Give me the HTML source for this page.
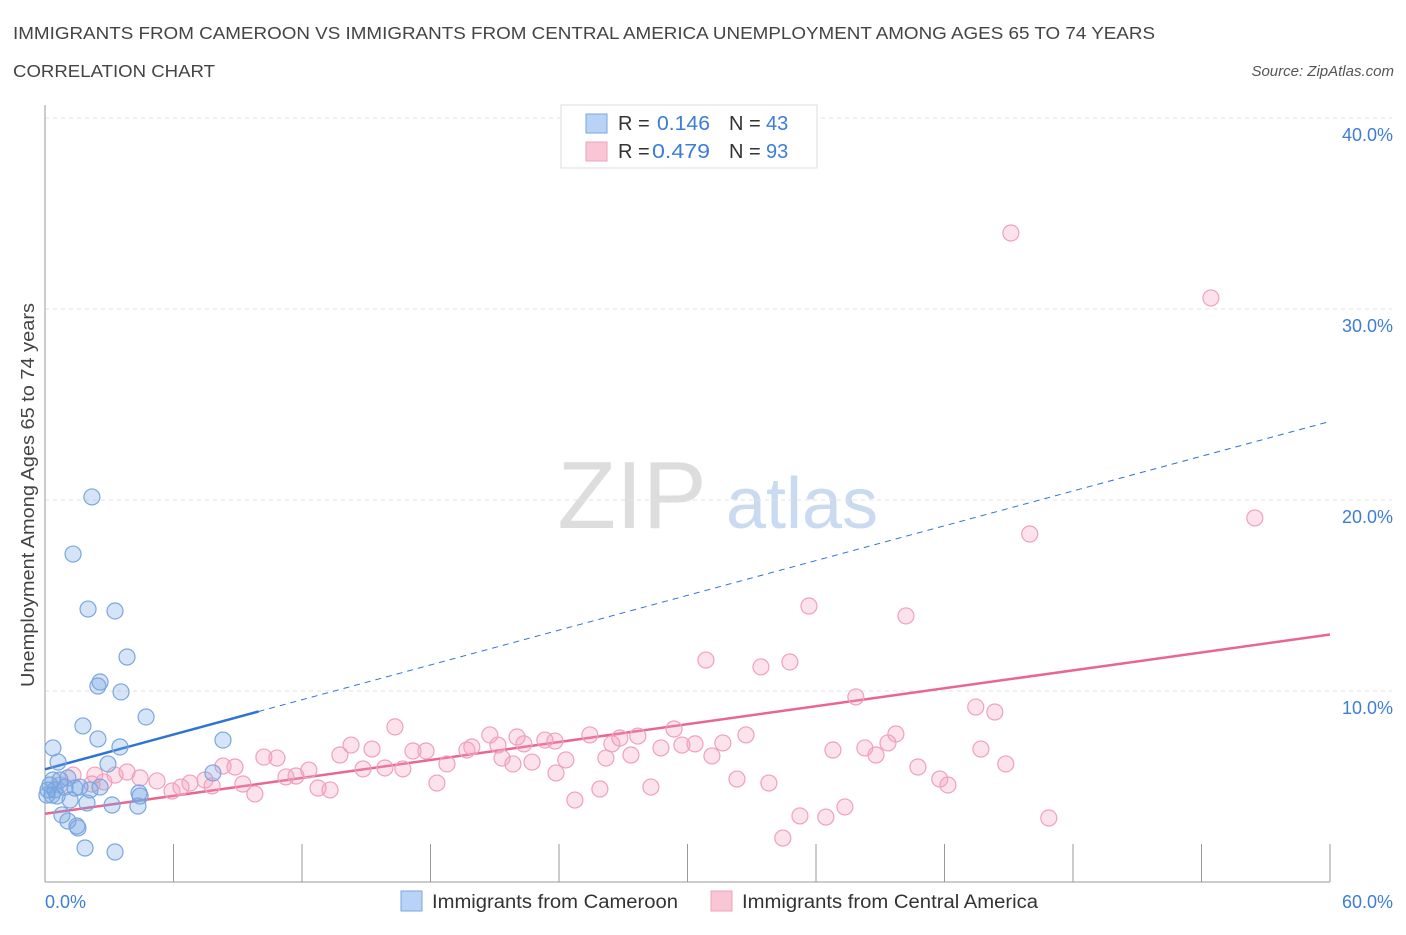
<!DOCTYPE html>
<html><head><meta charset="utf-8"><style>
body{margin:0;background:#fff;font-family:"Liberation Sans",sans-serif;}
svg text{font-family:"Liberation Sans",sans-serif;}
</style></head><body>
<svg id="chart" width="1406" height="930" xmlns="http://www.w3.org/2000/svg">
<text x="13" y="39" font-size="17.5" fill="#444" textLength="1142" lengthAdjust="spacingAndGlyphs">IMMIGRANTS FROM CAMEROON VS IMMIGRANTS FROM CENTRAL AMERICA UNEMPLOYMENT AMONG AGES 65 TO 74 YEARS</text>
<text x="13" y="77" font-size="17.5" fill="#444" textLength="202" lengthAdjust="spacingAndGlyphs">CORRELATION CHART</text>
<text x="1394" y="76" font-size="15" fill="#555" text-anchor="end" font-style="italic">Source: ZipAtlas.com</text>
<text transform="translate(34,495) rotate(-90)" font-size="18" fill="#444" text-anchor="middle" textLength="384" lengthAdjust="spacingAndGlyphs">Unemployment Among Ages 65 to 74 years</text>
<g>
<text x="632" y="528" font-size="96" fill="#ddd" font-family="Liberation Serif,serif" text-anchor="middle">ZIP</text>
<text x="802" y="528" font-size="72" fill="#c9daf1" text-anchor="middle">atlas</text>
</g>
<g id="grid"></g><g id="axes"></g><g id="lines"></g><g id="pts"></g>
<g>
<rect x="561" y="105" width="256" height="63" fill="#fff" stroke="#ddd"/>
<rect x="586" y="114" width="21" height="19" fill="#b9d3f6" stroke="#7aa6e0"/>
<text x="618" y="130" font-size="20" fill="#333">R = </text><text x="657" y="130" font-size="20" fill="#3d7dd8" textLength="53" lengthAdjust="spacingAndGlyphs">0.146</text>
<text x="729" y="130" font-size="20" fill="#333">N = </text><text x="766" y="130" font-size="20" fill="#3d7dd8">43</text>
<rect x="586" y="142" width="21" height="19" fill="#f9c6d6" stroke="#f0a0bc"/>
<text x="618" y="158" font-size="20" fill="#333">R = </text><text x="652" y="158" font-size="20" fill="#3d7dd8" textLength="58" lengthAdjust="spacingAndGlyphs">0.479</text>
<text x="729" y="158" font-size="20" fill="#333">N = </text><text x="766" y="158" font-size="20" fill="#3d7dd8">93</text>
</g>
<g>
<rect x="401" y="891" width="21" height="20" fill="#b9d3f6" stroke="#7aa6e0"/>
<text x="432" y="908" font-size="19" fill="#333" textLength="246" lengthAdjust="spacingAndGlyphs">Immigrants from Cameroon</text>
<rect x="711" y="891" width="21" height="20" fill="#f9c6d6" stroke="#f0a0bc"/>
<text x="742" y="908" font-size="19" fill="#333" textLength="296" lengthAdjust="spacingAndGlyphs">Immigrants from Central America</text>
</g>
</svg>
<script>
const blueX=[2.19,1.31,2.01,3.27,3.83,2.57,2.47,3.55,4.72,1.77,2.47,3.50,0.37,8.31,2.94,0.61,7.84,0.70,1.07,0.23,0.47,1.40,1.63,0.33,0.56,2.10,4.44,4.34,1.96,3.13,1.17,0.79,1.07,1.49,1.54,1.87,3.27,0.14,0.93,2.57,0.37,0.09,4.39];
const blueY=[20.16,17.17,14.29,14.19,11.78,10.47,10.26,9.95,8.64,8.17,7.49,7.07,7.02,7.43,6.18,6.28,5.71,5.34,5.45,5.08,4.82,4.92,4.97,4.55,4.50,4.82,4.50,3.98,4.14,4.03,4.29,3.51,3.19,2.93,2.83,1.78,1.57,4.82,4.97,4.97,5.34,4.55,4.66];
const pinkX=[45.10,54.44,56.49,45.98,35.67,40.20,30.86,33.43,34.78,37.86,43.46,44.35,16.34,20.77,22.04,23.34,27.68,29.37,25.44,26.84,14.29,15.27,17.18,17.79,19.70,19.93,21.15,22.36,23.81,26.47,28.76,29.74,30.35,31.65,32.73,39.73,39.36,36.79,38.28,38.80,43.70,10.22,10.83,8.87,8.31,13.77,14.85,15.87,16.71,18.77,21.34,21.85,22.74,24.32,23.86,26.19,27.36,31.14,12.32,11.72,11.25,3.83,3.27,4.44,5.23,6.35,6.77,7.47,7.80,9.24,9.80,12.75,13.31,5.93,2.75,2.19,2.33,0.70,1.31,18.30,28.29,32.31,33.80,40.76,41.78,42.16,44.86,24.74,25.91,35.25,36.46,37.35,34.45,46.87];
const pinkY=[33.98,30.58,19.06,18.22,14.45,13.93,11.62,11.26,11.52,9.69,9.16,8.90,8.12,7.70,7.59,7.43,7.64,8.01,7.70,7.54,7.17,6.96,6.86,6.86,6.91,7.07,7.17,7.23,7.38,7.23,7.02,7.17,7.23,7.28,7.70,7.75,7.28,6.91,7.02,6.65,6.96,6.54,6.49,6.02,6.07,6.65,5.92,5.97,5.92,6.18,6.49,6.18,6.28,6.39,5.71,6.49,6.65,6.60,5.86,5.55,5.50,5.76,5.60,5.45,5.29,4.97,5.18,5.34,5.03,5.13,4.61,4.92,4.82,4.76,5.24,5.13,5.60,5.08,5.60,5.18,4.97,5.39,5.18,6.02,5.39,5.08,6.18,4.29,4.87,3.46,3.40,3.93,2.30,3.35];
const yTicks=[10,20,30,40];
const yTickLabels=["10.0%","20.0%","30.0%","40.0%"];
const xTicks=[0,6,12,18,24,30,36,42,48,54,60];
const NS="http://www.w3.org/2000/svg";
const X=v=>45+v*1285/60, Y=v=>882-v*19.1;
function mk(t,a,p){const e=document.createElementNS(NS,t);for(const k in a)e.setAttribute(k,a[k]);p.appendChild(e);return e;}
const grid=document.getElementById('grid'),axes=document.getElementById('axes'),lines=document.getElementById('lines'),pts=document.getElementById('pts');
yTicks.forEach((t,i)=>{
 const l=mk('line',{x1:45,x2:1392,y1:Y(t),y2:Y(t),stroke:'#e2e2e2','stroke-dasharray':'4,4'},grid);
 
 
 const tx=mk('text',{x:1393,y:Y(t)+23,'font-size':18,fill:'#3d7dd8','text-anchor':'end'},axes);
 tx.textContent=yTickLabels[i];
 
 
});
const ya=mk('line',{x1:45,x2:45,y1:105,y2:882,stroke:'#999'},axes);


const xa=mk('line',{x1:45,x2:1330,y1:882,y2:882,stroke:'#999'},axes);


xTicks.forEach(t=>{const l=mk('line',{x1:X(t),x2:X(t),y1:844,y2:882,stroke:'#999'},axes);
 
 });
const x0=mk('text',{x:45,y:908,'font-size':18,fill:'#3d7dd8'},axes);x0.textContent='0.0%';


const x1=mk('text',{x:1393,y:908,'font-size':18,fill:'#3d7dd8','text-anchor':'end'},axes);x1.textContent='60.0%';


function fit(xs,ys){const n=xs.length;let mx=0,my=0;for(let i=0;i<n;i++){mx+=xs[i];my+=ys[i];}mx/=n;my/=n;let sxy=0,sxx=0;for(let i=0;i<n;i++){sxy+=(xs[i]-mx)*(ys[i]-my);sxx+=(xs[i]-mx)**2;}const b=sxy/sxx;return [my-b*mx,b];}
const [ba,bb]=fit(blueX,blueY),[pa,pb]=fit(pinkX,pinkY);
const bmax=Math.max(...blueX)*1.2;
let l1=mk('line',{x1:X(0),y1:Y(ba),x2:X(bmax),y2:Y(ba+bb*bmax),stroke:'#2f73d4','stroke-width':2.5},lines);


let l2=mk('line',{x1:X(bmax),y1:Y(ba+bb*bmax),x2:X(60),y2:Y(ba+bb*60),stroke:'#2f73d4','stroke-width':1,'stroke-dasharray':'6,5'},lines);


let l3=mk('line',{x1:X(0),y1:Y(pa),x2:X(60),y2:Y(pa+pb*60),stroke:'#e86690','stroke-width':2.5},lines);


pinkX.forEach((x,i)=>{const c=mk('circle',{cx:X(x),cy:Y(pinkY[i]),r:8,fill:'rgba(244,160,188,0.3)',stroke:'#f0a0bc','stroke-width':1.2},pts);
 
 });
blueX.forEach((x,i)=>{const c=mk('circle',{cx:X(x),cy:Y(blueY[i]),r:8,fill:'rgba(120,165,230,0.3)',stroke:'#7aa6e0','stroke-width':1.2},pts);
 
 });
</script>
</body></html>
